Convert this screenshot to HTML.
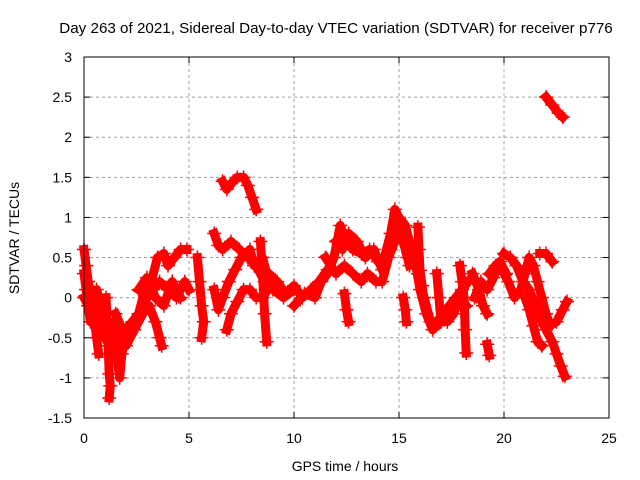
<!DOCTYPE html>
<html><head><meta charset="utf-8"><style>
body{margin:0;background:#fff}
svg{display:block;font-family:"Liberation Sans",sans-serif}
</style></head><body>
<svg id="chart" width="640" height="480" xmlns="http://www.w3.org/2000/svg">
<rect width="640" height="480" fill="#fff"/>
<text x="336" y="33" font-size="15.2" text-anchor="middle">Day 263 of 2021, Sidereal Day-to-day VTEC variation (SDTVAR) for receiver p776</text>
<text x="345" y="471" font-size="14" text-anchor="middle">GPS time / hours</text>
<text transform="translate(19,238) rotate(-90)" font-size="14" text-anchor="middle">SDTVAR / TECUs</text>
<g id="grid"></g>
<g id="ticks"></g>
<g id="marks"></g>
<rect x="84" y="57" width="525" height="361" fill="none" stroke="#000" stroke-width="1"/>
</svg>
<script>
const xTicks=[0,5,10,15,20,25];
const yTicks=[-1.5,-1,-0.5,0,0.5,1,1.5,2,2.5,3];
const yTickLabels=["-1.5","-1","-0.5","0","0.5","1","1.5","2","2.5","3"];
const t1x=[0,0.1,0.2,0.3,0.4,0.5,0.6,0.7];
const t1y=[0.6,0.4,0.2,0.0,-0.2,-0.3,-0.5,-0.7];
const t2x=[0,0.1,0.2,0.3,0.4,0.5,0.6,0.8,0.9];
const t2y=[0.3,0.1,-0.1,-0.3,-0.2,0.0,0.1,-0.1,-0.3];
const t3x=[1.05,1.1,1.15,1.2,1.25,1.2];
const t3y=[0.0,-0.3,-0.6,-0.95,-1.1,-1.25];
const t4x=[1.4,1.5,1.6,1.7,1.8,2.0,2.3,2.6,3.0,3.3,3.6,4.0,4.4,4.8,5.0];
const t4y=[-0.3,-0.4,-0.8,-1.0,-0.7,-0.4,-0.3,-0.2,0.0,0.1,0.2,0.1,0.0,0.2,0.1];
const t5x=[1.5,2.0,2.5,3.0,3.2,3.5,3.8,4.0,4.3,4.6,4.9];
const t5y=[-0.2,-0.5,-0.3,0.2,0.2,0.5,0.55,0.4,0.5,0.6,0.6];
const t6x=[1.6,2.0,2.4,2.8,3.1,3.4,3.6,3.7];
const t6y=[-0.5,-0.6,-0.4,-0.2,-0.1,-0.3,-0.5,-0.6];
const t7x=[5.4,5.5,5.6,5.7,5.6];
const t7y=[0.5,0.2,-0.1,-0.3,-0.5];
const t8x=[6.2,6.4,6.6,7.0,7.4,7.8,8.2,8.6,9.0,9.5,10.0];
const t8y=[0.8,0.65,0.6,0.7,0.6,0.5,0.4,0.2,0.1,0.0,0.1];
const t9x=[6.2,6.4,6.6,6.9,7.2,7.5,7.9,8.1,8.5,8.8];
const t9y=[0.1,-0.15,0.0,0.2,0.35,0.5,0.6,0.4,0.5,0.2];
const t10x=[6.8,7.0,7.3,7.6,7.9,8.2,8.5,9.0,9.5];
const t10y=[-0.4,-0.2,-0.05,0.1,0.1,0.0,0.0,0.2,0.05];
const t11x=[8.4,8.5,8.6,8.7];
const t11y=[0.7,0.3,-0.2,-0.55];
const t12x=[6.6,6.8,7.1,7.3,7.6,7.8,8.0,8.2];
const t12y=[1.45,1.35,1.45,1.5,1.5,1.4,1.25,1.1];
const t13x=[10.0,10.5,11.0,11.3,11.6,11.9,12.2,12.5,12.8,13.2,13.6,14.0,14.3,14.6,14.8,15.0,15.3,15.6,15.9,16.2,16.5,16.8,17.1,17.4,17.7,18.0,18.3];
const t13y=[-0.1,0.05,0.0,0.2,0.3,0.5,0.9,0.7,0.6,0.55,0.6,0.45,0.5,0.8,1.1,1.0,0.9,0.6,0.3,0.0,-0.3,-0.3,-0.2,-0.1,0.0,0.1,0.2];
const t14x=[11.5,12.0,12.4,12.8,13.2,13.5,13.9,14.2,14.5,14.8,15.1,15.4,15.8,16.0,16.3,16.6,17.0,17.3,17.6,17.9,18.2];
const t14y=[0.5,0.3,0.4,0.3,0.2,0.3,0.2,0.2,0.5,0.7,0.8,0.5,0.4,0.1,-0.2,-0.4,-0.3,-0.3,-0.2,0.0,-0.1];
const t15x=[12.4,12.5,12.6];
const t15y=[0.05,-0.15,-0.3];
const t16x=[15.2,15.3,15.35];
const t16y=[0.0,-0.15,-0.3];
const t17x=[15.9,15.95,16.0,16.1];
const t17y=[0.88,0.6,0.34,0.15];
const t18x=[16.8,16.9,17.0];
const t18y=[0.3,0.0,-0.3];
const t19x=[17.9,18.0,18.1,18.15,18.2];
const t19y=[0.4,0.2,0.0,-0.4,-0.69];
const t20x=[18.5,18.8,19.0,19.2];
const t20y=[0.3,0.1,-0.1,-0.2];
const t21x=[19.2,19.3];
const t21y=[-0.58,-0.72];
const t22x=[19.3,19.6,19.9,20.2,20.5,20.8,21.0,21.2,21.4,21.6,21.8,22.0,22.2,22.5,22.8,23.0];
const t22y=[0.3,0.4,0.35,0.2,0.0,0.1,0.3,0.5,0.4,0.2,0.0,-0.2,-0.35,-0.3,-0.15,-0.05];
const t23x=[20.0,20.3,20.6,20.9,21.2,21.5,21.8,22.0,22.3,22.5,22.7,22.9];
const t23y=[0.55,0.5,0.4,0.2,0.1,-0.1,-0.3,-0.4,-0.55,-0.7,-0.85,-0.98];
const t24x=[21.0,21.2,21.4,21.6,21.8];
const t24y=[0.0,-0.15,-0.35,-0.55,-0.6];
const t25x=[21.7,22.0,22.3];
const t25y=[0.55,0.55,0.45];
const t26x=[22.0,22.3,22.6,22.8];
const t26y=[2.5,2.4,2.3,2.25];
const t27x=[8.8,9.2,9.6,10.0,10.4,10.8,11.2,11.6];
const t27y=[0.3,0.2,0.05,0.15,0.0,0.1,0.2,0.35];
const t28x=[12.0,12.3,12.6,13.0,13.4,13.8,14.2];
const t28y=[0.7,0.6,0.8,0.7,0.5,0.6,0.35];
const t29x=[0,0.2,0.4,0.6,0.8,1.0];
const t29y=[0.0,-0.1,0.1,-0.2,-0.4,-0.5];
const t30x=[14.6,14.9,15.2,15.5];
const t30y=[0.6,0.9,0.7,0.4];
const t31x=[18.6,18.9,19.2,19.5,19.8,20.1];
const t31y=[0.0,0.2,0.1,0.25,0.45,0.3];
const t32x=[2.6,3.0,3.4,3.8,4.2,4.6];
const t32y=[0.1,0.25,0.0,-0.1,0.2,0.0];
const tracks=[[t1x,t1y],[t2x,t2y],[t3x,t3y],[t4x,t4y],[t5x,t5y],[t6x,t6y],[t7x,t7y],[t8x,t8y],[t9x,t9y],[t10x,t10y],[t11x,t11y],[t12x,t12y],[t13x,t13y],[t14x,t14y],[t15x,t15y],[t16x,t16y],[t17x,t17y],[t18x,t18y],[t19x,t19y],[t20x,t20y],[t21x,t21y],[t22x,t22y],[t23x,t23y],[t24x,t24y],[t25x,t25y],[t26x,t26y],[t27x,t27y],[t28x,t28y],[t29x,t29y],[t30x,t30y],[t31x,t31y],[t32x,t32y]];
const NS="http://www.w3.org/2000/svg";
const X0=84,X1=609,Y0=418,Y1=57;
function sx(h){return X0+(h-0)/(25-0)*(X1-X0);}
function sy(v){return Y0-(v+1.5)/(3+1.5)*(Y0-Y1);}
const grid=document.getElementById('grid'),ticks=document.getElementById('ticks'),marks=document.getElementById('marks');
function mk(tag,attrs,parent){const e=document.createElementNS(NS,tag);for(const k in attrs)e.setAttribute(k,attrs[k]);parent.appendChild(e);return e;}
xTicks.forEach((t,i)=>{
  const x=sx(t);
  if(t>0&&t<25){const g=mk('line',{x1:x,x2:x,y1:Y1,y2:Y0,stroke:'#a0a0a0','stroke-dasharray':'3,3'},grid);
  
  }
  mk('line',{x1:x,x2:x,y1:Y0,y2:Y0-6,stroke:'#000'},ticks);
  mk('line',{x1:x,x2:x,y1:Y1,y2:Y1+6,stroke:'#000'},ticks);
  const l=mk('text',{x:x,y:443,'font-size':14,'text-anchor':'middle'},ticks);l.textContent=t;
  
  
});
yTicks.forEach((t,i)=>{
  const y=sy(t);
  if(t>-1.5&&t<3){const g=mk('line',{x1:X0,x2:X1,y1:y,y2:y,stroke:'#a0a0a0','stroke-dasharray':'3,3'},grid);
  
  }
  mk('line',{x1:X0,x2:X0+6,y1:y,y2:y,stroke:'#000'},ticks);
  mk('line',{x1:X1,x2:X1-6,y1:y,y2:y,stroke:'#000'},ticks);
  const l=mk('text',{x:72,y:y+5,'font-size':14,'text-anchor':'end'},ticks);l.textContent=yTickLabels[i];
  
  
});
tracks.forEach(([xs,ys])=>{
  const pts=xs.map((h,i)=>sx(h)+','+sy(ys[i])).join(' ');
  const pl=mk('polyline',{points:pts,fill:'none',stroke:'#f00','stroke-width':9,'stroke-linejoin':'round','stroke-linecap':'square'},marks);
  
  
  xs.forEach((h,i)=>{
    const x=sx(h),y=sy(ys[i]);
    const p=mk('path',{d:`M${x-7},${y}H${x+7}M${x},${y-7}V${y+7}`,stroke:'#f00','stroke-width':1.5},marks);
    
    
  });
});
</script>
</body></html>
